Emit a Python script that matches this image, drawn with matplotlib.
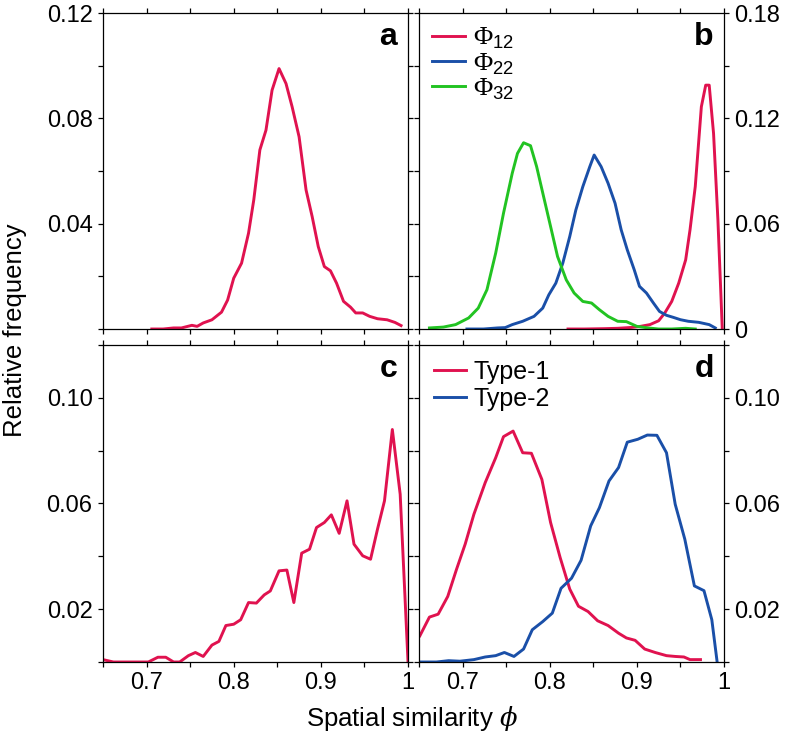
import numpy as np
import matplotlib
matplotlib.use("Agg")
import matplotlib.pyplot as plt

plt.rcParams['font.family'] = ['Liberation Sans', 'DejaVu Sans']
plt.rcParams['mathtext.fontset'] = 'custom'
plt.rcParams['mathtext.rm'] = 'Liberation Sans'
plt.rcParams['mathtext.sf'] = 'Liberation Serif'
plt.rcParams['mathtext.it'] = 'DejaVu Serif:italic'

# colours
red = '#e0124f'
blue = '#1a4fa8'
green = '#22c322'

# panel a - single distribution
a_x = [0.706, 0.719, 0.731, 0.740, 0.752, 0.758, 0.765, 0.775, 0.786, 0.793, 0.800,
       0.809, 0.817, 0.823, 0.830, 0.837, 0.844, 0.852, 0.860, 0.867, 0.875, 0.883,
       0.890, 0.897, 0.904, 0.911, 0.918, 0.926, 0.934, 0.940, 0.948, 0.956, 0.965,
       0.976, 0.985, 0.992]
a_y = [0.0, 0.0, 0.0004, 0.0004, 0.0014, 0.0010, 0.0023, 0.0035, 0.0064, 0.0110, 0.0193,
       0.0250, 0.0364, 0.0490, 0.0680, 0.0755, 0.0907, 0.0989, 0.0932, 0.0844, 0.0730, 0.0528,
       0.0427, 0.0313, 0.0237, 0.0221, 0.0174, 0.0105, 0.0083, 0.0061, 0.0061, 0.0048, 0.0039,
       0.0035, 0.0025, 0.0013]

# panel b - three distributions
b12_x = [0.821, 0.840, 0.863, 0.878, 0.894, 0.904, 0.915, 0.925, 0.932, 0.940, 0.948,
         0.956, 0.961, 0.967, 0.974, 0.979, 0.983, 0.988, 0.993, 0.998]
b12_y = [0.0, 0.0, 0.0002, 0.0004, 0.0009, 0.0015, 0.0025, 0.0047, 0.0091, 0.0157, 0.0261,
         0.0394, 0.0565, 0.0811, 0.1266, 0.1389, 0.1389, 0.1114, 0.0621, 0.0]
b22_x = [0.705, 0.724, 0.740, 0.749, 0.757, 0.769, 0.782, 0.792, 0.799, 0.807, 0.815,
         0.823, 0.830, 0.838, 0.846, 0.851, 0.859, 0.867, 0.875, 0.882, 0.889, 0.897,
         0.903, 0.911, 0.919, 0.926, 0.934, 0.942, 0.950, 0.959, 0.971, 0.983, 0.990]
b22_y = [0.0, 0.0, 0.0006, 0.0008, 0.0025, 0.0044, 0.0072, 0.0119, 0.0195, 0.0261, 0.0375,
         0.0527, 0.0678, 0.0811, 0.0925, 0.0991, 0.0925, 0.0830, 0.0716, 0.0565, 0.0451, 0.0337,
         0.0243, 0.0205, 0.0148, 0.0100, 0.0078, 0.0066, 0.0053, 0.0044, 0.0038, 0.0025, 0.0006]
b32_x = [0.662, 0.678, 0.692, 0.707, 0.718, 0.728, 0.738, 0.747, 0.757, 0.763, 0.770,
         0.778, 0.785, 0.793, 0.801, 0.809, 0.819, 0.828, 0.838, 0.848, 0.857, 0.867,
         0.878, 0.888, 0.900, 0.913, 0.925, 0.940, 0.956, 0.967]
b32_y = [0.0006, 0.0011, 0.0025, 0.0063, 0.0119, 0.0224, 0.0432, 0.0660, 0.0887, 0.1000, 0.1061,
         0.1044, 0.0925, 0.0754, 0.0584, 0.0413, 0.0280, 0.0205, 0.0157, 0.0148, 0.0110, 0.0072,
         0.0044, 0.0042, 0.0015, 0.0006, 0.0, 0.0, 0.0004, 0.0]

# panel c - jagged distribution
c_x = [0.650, 0.662, 0.677, 0.702, 0.713, 0.722, 0.731, 0.738, 0.748, 0.756, 0.765,
       0.775, 0.783, 0.791, 0.800, 0.808, 0.817, 0.826, 0.835, 0.842, 0.852, 0.861,
       0.869, 0.878, 0.887, 0.895, 0.904, 0.912, 0.921, 0.930, 0.938, 0.948, 0.957,
       0.965, 0.973, 0.982, 0.991, 1.000]
c_y = [0.0009, 0.0, 0.0, 0.0, 0.0018, 0.0018, 0.0, 0.0, 0.0024, 0.0036, 0.0021,
       0.0064, 0.0078, 0.0138, 0.0143, 0.0160, 0.0225, 0.0223, 0.0254, 0.0269, 0.0345, 0.0348,
       0.0225, 0.0412, 0.0427, 0.0509, 0.0528, 0.0557, 0.0487, 0.0610, 0.0446, 0.0402, 0.0389,
       0.0503, 0.0610, 0.0880, 0.0635, 0.0]

# panel d - Type-1 / Type-2
d1_x = [0.651, 0.662, 0.672, 0.683, 0.693, 0.703, 0.713, 0.726, 0.738, 0.747, 0.758,
        0.769, 0.779, 0.791, 0.801, 0.812, 0.823, 0.833, 0.844, 0.855, 0.867, 0.879,
        0.888, 0.898, 0.909, 0.921, 0.934, 0.944, 0.954, 0.961, 0.973]
d1_y = [0.0099, 0.0170, 0.0181, 0.0248, 0.0350, 0.0446, 0.0559, 0.0679, 0.0773, 0.0853, 0.0874,
        0.0792, 0.0790, 0.0691, 0.0528, 0.0395, 0.0276, 0.0211, 0.0191, 0.0156, 0.0138, 0.0109,
        0.0091, 0.0082, 0.0049, 0.0036, 0.0024, 0.0021, 0.0019, 0.0009, 0.0009]
d2_x = [0.651, 0.670, 0.684, 0.697, 0.713, 0.726, 0.738, 0.748, 0.759, 0.770, 0.780,
        0.792, 0.803, 0.813, 0.825, 0.836, 0.847, 0.857, 0.868, 0.879, 0.889, 0.901,
        0.912, 0.923, 0.934, 0.944, 0.955, 0.966, 0.977, 0.986, 0.992]
d2_y = [0.0, 0.0, 0.0005, 0.0003, 0.0009, 0.0019, 0.0024, 0.0036, 0.0021, 0.0049, 0.0122,
        0.0153, 0.0185, 0.0279, 0.0317, 0.0385, 0.0515, 0.0584, 0.0685, 0.0736, 0.0832, 0.0843,
        0.0859, 0.0858, 0.0792, 0.0597, 0.0465, 0.0288, 0.0270, 0.0160, 0.0003]

x_major = [0.7, 0.8, 0.9, 1.0]
x_labels = ['0.7', '0.8', '0.9', '1']
x_minor = [0.65, 0.75, 0.85, 0.95]

fig = plt.figure(figsize=(7.88, 7.39), dpi=100)
ax_a = fig.add_axes([0.1307, 0.5548, 0.3871, 0.4276])
ax_b = fig.add_axes([0.5317, 0.5548, 0.3871, 0.4276])
ax_c = fig.add_axes([0.1307, 0.1042, 0.3871, 0.4290])
ax_d = fig.add_axes([0.5317, 0.1042, 0.3871, 0.4290])

lw = 2.1
ax_a.plot(a_x, a_y, color=red, lw=lw)
ax_b.plot(b12_x, b12_y, color=red, lw=lw, label=r'$\mathsf{\Phi}_{12}$')
ax_b.plot(b22_x, b22_y, color=blue, lw=lw, label=r'$\mathsf{\Phi}_{22}$')
ax_b.plot(b32_x, b32_y, color=green, lw=lw, label=r'$\mathsf{\Phi}_{32}$')
ax_c.plot(c_x, c_y, color=red, lw=lw)
ax_d.plot(d1_x, d1_y, color=red, lw=lw, label='Type-1')
ax_d.plot(d2_x, d2_y, color=blue, lw=lw, label='Type-2')

for ax in [ax_a, ax_b, ax_c, ax_d]:
    ax.set_xlim(0.65, 1.0)
    ax.set_xticks(x_major)
    ax.set_xticks(x_minor, minor=True)
    ax.tick_params(which='both', direction='out', length=3.5, width=0.9, pad=4,
                   top=True, right=True, left=True, bottom=True, labelsize=17)
    for s in ax.spines.values():
        s.set_linewidth(0.9)

# only the bottom row gets x labels
for ax in [ax_a, ax_b]:
    ax.tick_params(labelbottom=False)
for ax in [ax_c, ax_d]:
    ax.set_xticklabels(x_labels)

# left column labels on the left, right column on the right
for ax in [ax_b, ax_d]:
    ax.tick_params(which='both', labelleft=False, labelright=True)

ax_a.set_ylim(0, 0.12)
ax_a.set_yticks([0.04, 0.08, 0.12])
ax_a.set_yticks([0, 0.02, 0.06, 0.10], minor=True)
ax_a.set_yticklabels(['0.04', '0.08', '0.12'])

ax_b.set_ylim(0, 0.18)
ax_b.set_yticks([0, 0.06, 0.12, 0.18])
ax_b.set_yticks([0.03, 0.09, 0.15], minor=True)
ax_b.set_yticklabels(['0', '0.06', '0.12', '0.18'])

for ax in [ax_c, ax_d]:
    ax.set_ylim(0, 0.12)
    ax.set_yticks([0.02, 0.06, 0.10])
    ax.set_yticks([0, 0.04, 0.08, 0.12], minor=True)
    ax.set_yticklabels(['0.02', '0.06', '0.10'])

# panel letters
for ax, lab in zip([ax_a, ax_b, ax_c, ax_d], ['a', 'b', 'c', 'd']):
    ax.text(0.935, 0.925, lab, transform=ax.transAxes, fontsize=23,
            fontweight='bold', ha='center', va='center')

ax_b.legend(loc='upper left', frameon=False, fontsize=19, handlelength=1.25,
            handletextpad=0.3, labelspacing=0.0, borderaxespad=0.2,
            borderpad=0.3)
ax_d.legend(loc='upper left', frameon=False, fontsize=18, handlelength=1.3,
            handletextpad=0.3, labelspacing=0.12, borderaxespad=0.2,
            borderpad=0.4)

fig.text(0.019, 0.553, 'Relative frequency', rotation=90, fontsize=18.5,
         ha='center', va='center')
fig.text(0.523, 0.028, r'Spatial similarity $\phi$', fontsize=18.5,
         ha='center', va='center')

fig.savefig('out.png', dpi=100)
